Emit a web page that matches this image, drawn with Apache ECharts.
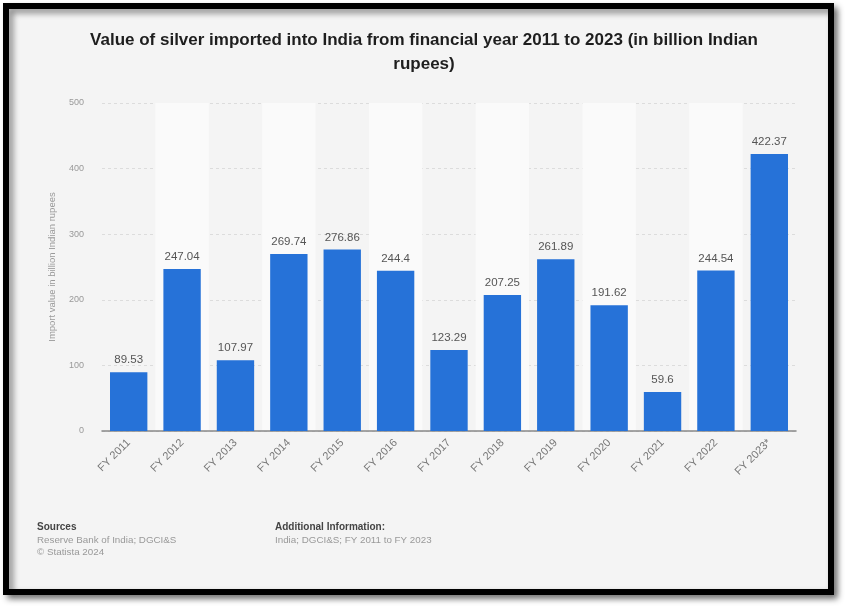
<!DOCTYPE html>
<html>
<head>
<meta charset="utf-8">
<script src="https://cdn.jsdelivr.net/npm/echarts@6/dist/echarts.min.js"></script>
<style>
html,body{margin:0;padding:0;background:#ffffff;}
#c{width:848px;height:607px;}
</style>
</head>
<body>
<div id="c"></div>
<script>
const categories = ['FY 2011','FY 2012','FY 2013','FY 2014','FY 2015','FY 2016','FY 2017','FY 2018','FY 2019','FY 2020','FY 2021','FY 2022','FY 2023*'];
const importValues = [89.53, 247.04, 107.97, 269.74, 276.86, 244.4, 123.29, 207.25, 261.89, 191.62, 59.6, 244.54, 422.37];
const yTicks = [0, 100, 200, 300, 400, 500];
const titleText = 'Value of silver imported into India from financial year 2011 to 2023 (in billion Indian\nrupees)';
const yAxisName = 'Import value in billion Indian rupees';

const chart = echarts.init(document.getElementById('c'), null, {renderer:'canvas'});
const font = 'Liberation Sans, Arial, sans-serif';
chart.setOption({
  backgroundColor: '#ffffff',
  animation: false,
  graphic: [
    {type:'rect', z:-10, shape:{x:6,y:6,width:825,height:586},
     style:{fill:'#f4f4f4', stroke:'#000', lineWidth:6, shadowBlur:6, shadowOffsetX:4, shadowOffsetY:4, shadowColor:'rgba(0,0,0,0.45)'}},
    {type:'text', left:37, top:522, style:{text:'Sources', font:'bold 10px '+font, fill:'#444'}},
    {type:'text', left:37, top:535, style:{text:'Reserve Bank of India; DGCI&S', font:'9.8px '+font, fill:'#999'}},
    {type:'text', left:37, top:547, style:{text:'© Statista 2024', font:'9.8px '+font, fill:'#999'}},
    {type:'text', left:275, top:522, style:{text:'Additional Information:', font:'bold 10px '+font, fill:'#444'}},
    {type:'text', left:275, top:535, style:{text:'India; DGCI&S; FY 2011 to FY 2023', font:'9.8px '+font, fill:'#999'}}
  ],
  title: {
    text: titleText,
    left: 'center',
    top: 23,
    textStyle: {fontFamily: font, fontSize: 17, fontWeight: 'bold', color: '#1e1e1e', lineHeight: 24}
  },
  grid: {left: 102, right: 52, top: 103, bottom: 176},
  xAxis: {
    type: 'category',
    data: categories,
    axisLine: {lineStyle: {color: '#888', width: 1.5}},
    axisTick: {show: false},
    axisLabel: {rotate: 45, color: '#777', fontSize: 11, fontFamily: font, margin: 10},
    splitArea: {show: true, areaStyle: {color: ['rgba(0,0,0,0)', '#fafafa']}}
  },
  yAxis: {
    type: 'value',
    min: 0, max: 500, interval: 100,
    name: yAxisName,
    nameLocation: 'middle',
    nameGap: 45,
    nameTextStyle: {color: '#999', fontSize: 9.5, fontFamily: font},
    axisLine: {show: false},
    axisTick: {show: false},
    axisLabel: {color: '#999', fontSize: 9, fontFamily: font, margin: 18},
    splitLine: {lineStyle: {color: '#dcdcdc', type: [3,3]}}
  },
  series: [{
    type: 'bar',
    data: importValues,
    barWidth: '70%',
    itemStyle: {color: '#2672d8'},
    label: {show: true, position: 'top', distance: 6, color: '#555', fontSize: 11.5, fontFamily: font}
  }]
});
</script>
</body>
</html>
